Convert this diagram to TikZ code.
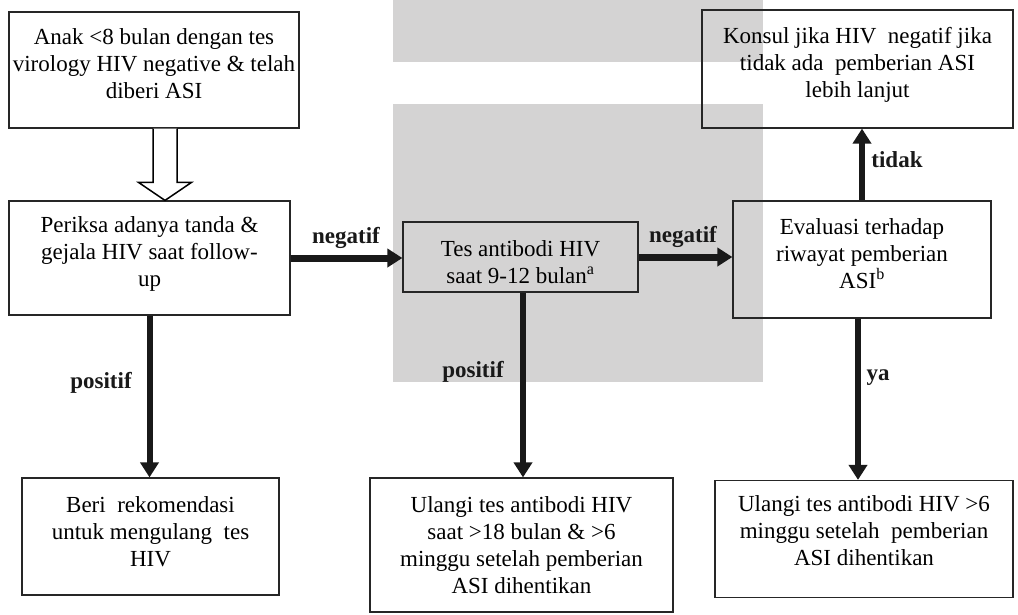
\documentclass[tikz,border=0pt]{standalone}
\usepackage{fontspec}
\setmainfont{Liberation Serif}
\usetikzlibrary{arrows.meta,calc}
\definecolor{wm}{RGB}{212,211,211}
\newcommand\lowstrut[1]{\rule[-#1]{0pt}{#1}}
\newcommand\highstrut[1]{\rule{0pt}{#1}}
\begin{document}
\begin{tikzpicture}[x=1pt,y=-1pt,
  box/.style={draw=black!85, line width=1.2pt, align=center, inner sep=0pt, font=\fontsize{23}{27}\selectfont},
  flow/.style={draw=black!90, line width=6pt, -{Triangle[length=15pt,width=18pt]}},
  hflow/.style={flow, line width=7pt},
  lbl/.style={font=\fontsize{23}{27}\selectfont\bfseries, inner sep=0pt, text=black!90}]
\useasboundingbox (0,0) rectangle (1018,614);
% watermark background blocks
\fill[wm] (393,0) rectangle (763,62);
\fill[wm] (393,104) rectangle (763,382);
% boxes
\node[box, minimum width=290pt, minimum height=116pt] (b1) at (154,70) {Anak <8 bulan dengan tes\\virology HIV negative \& telah\\diberi ASI\lowstrut{12pt}};
\node[box, minimum width=281pt, minimum height=114pt] (b2) at (149.5,258) {Periksa adanya tanda \&\\gejala HIV saat follow-\\up\lowstrut{13pt}};
\node[box, minimum width=235pt, minimum height=70pt] (b3) at (520.5,257) {\highstrut{26pt}Tes antibodi HIV\\saat 9-12 bulan\textsuperscript{a}};
\node[box, minimum width=258pt, minimum height=117pt] (b4) at (862,259.5) {Evaluasi terhadap\\riwayat pemberian\\ASI\textsuperscript{b}\lowstrut{12pt}};
\node[box, minimum width=311pt, minimum height=118pt] (b5) at (857.5,69) {Konsul jika HIV\ \ negatif jika\\tidak ada\ \ pemberian ASI\\lebih lanjut\lowstrut{13pt}};
\node[box, minimum width=257pt, minimum height=117pt] (b6) at (150.5,536.5) {Beri\ \ rekomendasi\\untuk mengulang\ \ tes\\HIV\lowstrut{10pt}};
\node[box, minimum width=303pt, minimum height=134pt] (b7) at (521.5,545) {Ulangi tes antibodi HIV\\saat >18 bulan \& >6\\minggu setelah pemberian\\ASI dihentikan};
\node[box, minimum width=298pt, minimum height=117pt] (b8) at (864,539) {Ulangi tes antibodi HIV >6\\minggu setelah\ \ pemberian\\ASI dihentikan\lowstrut{16pt}};
% hollow arrow
\coordinate (ha) at ($(b1.south)+(11,0)$);
\coordinate (hb) at (ha |- b2.north);
\draw[line width=1.5pt, fill=white, line join=miter] ($(ha)+(-12,0)$) -- ($(hb)+(-12,-18)$) -- ($(hb)+(-26.5,-18)$) -- (hb) -- ($(hb)+(26.5,-18)$) -- ($(hb)+(12,-18)$) -- ($(ha)+(12,0)$);
% connectors
\draw[hflow] (b2.east) -- (b2.east -| b3.west);
\draw[hflow] (b3.east) -- (b3.east -| b4.west);
\draw[flow] (b4.north) -- (b4.north |- b5.south);
\coordinate (c4) at ($(b4.south)+(-4,0)$);
\draw[flow] (c4) -- (c4 |- b8.north);
\draw[flow] (b2.south) -- (b2.south |- b6.north);
\coordinate (c3) at ($(b3.south)+(2.5,0)$);
\draw[flow] (c3) -- (c3 |- b7.north);
% labels
\node[lbl] (ln1) at (346,238) {negatif};
\node[lbl] (ln2) at (683,237) {negatif};
\node[lbl] (lt) at (897,160) {tidak};
\node[lbl] (ly) at (878,378) {ya};
\node[lbl] (lp1) at (101,383) {positif};
\node[lbl] (lp2) at (473,372) {positif};
\end{tikzpicture}
\end{document}
